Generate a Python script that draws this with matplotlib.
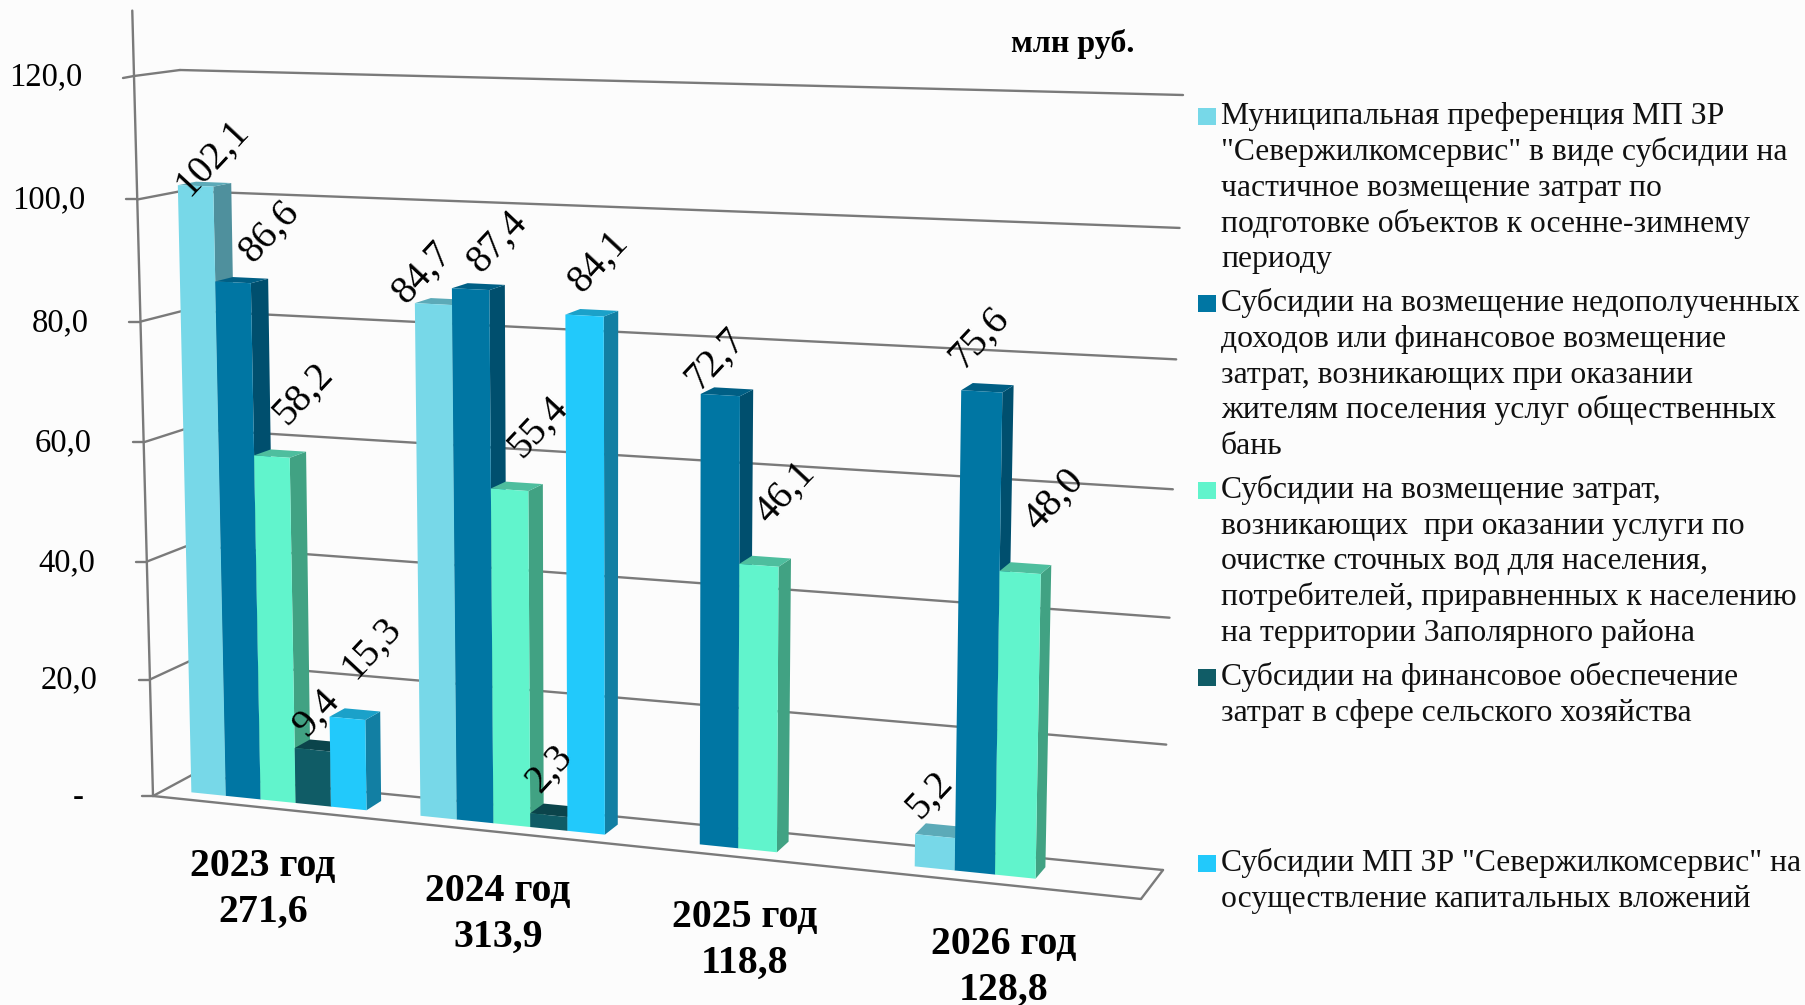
import numpy as np
import matplotlib
matplotlib.use("Agg")
import matplotlib.pyplot as plt

# data (nan = no bar in that year)
years = ["2023 год", "2024 год", "2025 год", "2026 год"]
totals = [271.6, 313.9, 118.8, 128.8]
pref = [102.1, 84.7, np.nan, 5.2]
bani = [86.6, 87.4, 72.7, 75.6]
stoki = [58.2, 55.4, 46.1, 48.0]
selhoz = [9.4, 2.3, np.nan, np.nan]
kapital = [15.3, 84.1, np.nan, np.nan]
series = [pref, bani, stoki, selhoz, kapital]
y_ticks = [0, 20, 40, 60, 80, 100, 120]
legend_lines = [
    ["Муниципальная преференция МП ЗР", "\"Севержилкомсервис\" в виде субсидии на",
     "частичное возмещение затрат по", "подготовке объектов к осенне-зимнему", "периоду"],
    ["Субсидии на возмещение недополученных", "доходов или финансовое возмещение",
     "затрат, возникающих при оказании", "жителям поселения услуг общественных", "бань"],
    ["Субсидии на возмещение затрат,", "возникающих  при оказании услуги по",
     "очистке сточных вод для населения,", "потребителей, приравненных к населению",
     "на территории Заполярного района"],
    ["Субсидии на финансовое обеспечение", "затрат в сфере сельского хозяйства"],
    ["Субсидии МП ЗР \"Севержилкомсервис\" на", "осуществление капитальных вложений"],
]

# colours: front, side, top
colors = [("#77D8E8", "#4F909D", "#5CAAB8"),
          ("#0076A3", "#004F6E", "#005F85"),
          ("#61F4CC", "#41A283", "#4EBE9E"),
          ("#105C66", "#0B444B", "#0B444B"),
          ("#22C9FB", "#127FA3", "#1BA1C9")]
line_col = "#7a7a7a"

# fake 3d box: corners in pixels [front/back][left/right][bottom/top]
box = np.array([[[(153, 796), (134, 76)], [(1141, 899), (1157, 108)]],
                [[(192, 775), (180, 70)], [(1163, 870), (1183, 95)]]], dtype=float)
vmax = 120.0


def pos(u, d, v):
    # u across (0..1), d depth (0..1), v value
    x = v / vmax
    vv = 0.965 * x + 0.035 * x ** 2
    uu = 0.9024 * u + 0.0976 * u ** 2
    front = (1 - uu) * ((1 - vv) * box[0, 0, 0] + vv * box[0, 0, 1]) + uu * ((1 - vv) * box[0, 1, 0] + vv * box[0, 1, 1])
    back = (1 - uu) * ((1 - vv) * box[1, 0, 0] + vv * box[1, 0, 1]) + uu * ((1 - vv) * box[1, 1, 0] + vv * box[1, 1, 1])
    return (1 - d) * front + d * back


def poly(points, color, z):
    pts = np.array(points) + np.array([1, 0])
    ax.fill(pts[:, 0], pts[:, 1], color=color, lw=0, zorder=z)


def seg(a, b, z=1, lw=1.7):
    ax.plot([a[0], b[0]], [a[1], b[1]], color=line_col, lw=lw, zorder=z, solid_capstyle="round")


plt.rcParams["font.family"] = ["Liberation Serif", "DejaVu Serif"]
fig = plt.figure(figsize=(18.06, 10.05), dpi=100, facecolor="#fcfcfc")
ax = fig.add_axes([0, 0, 1, 1])
ax.set_xlim(0, 1806)
ax.set_ylim(1005, 0)
ax.axis("off")

# walls
seg(pos(0, 0, 0), pos(0, 0, 130.5))
seg(pos(0, 0, 0), pos(1, 0, 0))
seg(pos(1, 0, 0), pos(1, 1, 0))
for t in y_ticks:
    fl = pos(0, 0, t)
    seg(fl + np.array([-11, 0 if t < 120 else 2]), fl)
    seg(fl, pos(0, 1, t))
    seg(pos(0, 1, t), pos(1, 1, t))
    if t:
        ax.text(fl[0] - 52, fl[1] + 1, f"{t:.1f}".replace(".", ","), ha="right", va="center", fontsize=23.5)
    else:
        ax.text(fl[0] - 69, fl[1] + 2, "-", ha="right", va="center", fontsize=23.5)

# bars
n_cat = len(years)
n_ser = len(series)
gap = 1.5
slots = n_ser + gap
d0, d1 = 0.30, 0.71
z = 3
for i in range(n_cat):
    for j in range(n_ser):
        v = series[j][i]
        if np.isnan(v):
            continue
        u0 = (i + (gap / 2 + j) / slots) / n_cat
        u1 = (i + (gap / 2 + j + 1) / slots) / n_cat
        front_c, side_c, top_c = colors[j]
        poly([pos(u1, d0, 0), pos(u1, d1, 0), pos(u1, d1, v), pos(u1, d0, v)], side_c, z)
        poly([pos(u0, d0, v), pos(u1, d0, v), pos(u1, d1, v), pos(u0, d1, v)], top_c, z)
        poly([pos(u0, d0, 0), pos(u1, d0, 0), pos(u1, d0, v), pos(u0, d0, v)], front_c, z)
        z += 1

# value labels, offset in pixels from the top of the bar front
label_off = [[(18, -28), (-10, -31), None, (-4, -41)],
             [(38, -51), (28, -47), (-4, -36), (-1.5, -54)],
             [(33, -63), (29.5, -63), (27, -73), (35, -73)],
             [(6, -37), (2, -46), None, None],
             [(25, -71), (15, -54), None, None]]
for i in range(n_cat):
    for j in range(n_ser):
        v = series[j][i]
        if np.isnan(v):
            continue
        um = (i + (gap / 2 + j + 0.5) / slots) / n_cat
        p = pos(um, d0, v) + np.array(label_off[j][i])
        ax.text(p[0], p[1], f"{v:.1f}".replace(".", ","), rotation=47, rotation_mode="anchor",
                ha="center", va="center", fontsize=28.5, zorder=50)

# year labels under the floor
for i in range(n_cat):
    um = (i + 0.5) / n_cat
    p = pos(um, 0, 0)
    ax.text(p[0] - 3, p[1] + 59, years[i], ha="center", va="center", fontsize=28.7, fontweight="bold")
    ax.text(p[0] - 3, p[1] + 105, f"{totals[i]:.1f}".replace(".", ","), ha="center", va="center",
            fontsize=28.7, fontweight="bold")

ax.text(1073, 44, "млн руб.", ha="center", va="center", fontsize=23, fontweight="bold")

# legend
baselines = [[124, 160, 196, 232, 267], [311, 347, 383, 418, 454], [498, 534, 569, 605, 641],
             [685, 721], [871, 907]]
for j, lines in enumerate(legend_lines):
    sq_y = baselines[j][0] - 8
    ax.fill([1198, 1216, 1216, 1198], [sq_y - 8.5, sq_y - 8.5, sq_y + 8.5, sq_y + 8.5], color=colors[j][0], lw=0)
    for line, b in zip(lines, baselines[j]):
        ax.text(1221, b, line, ha="left", va="baseline", fontsize=22.8, color="#111111")

fig.savefig("out.png", dpi=100, facecolor=fig.get_facecolor())
